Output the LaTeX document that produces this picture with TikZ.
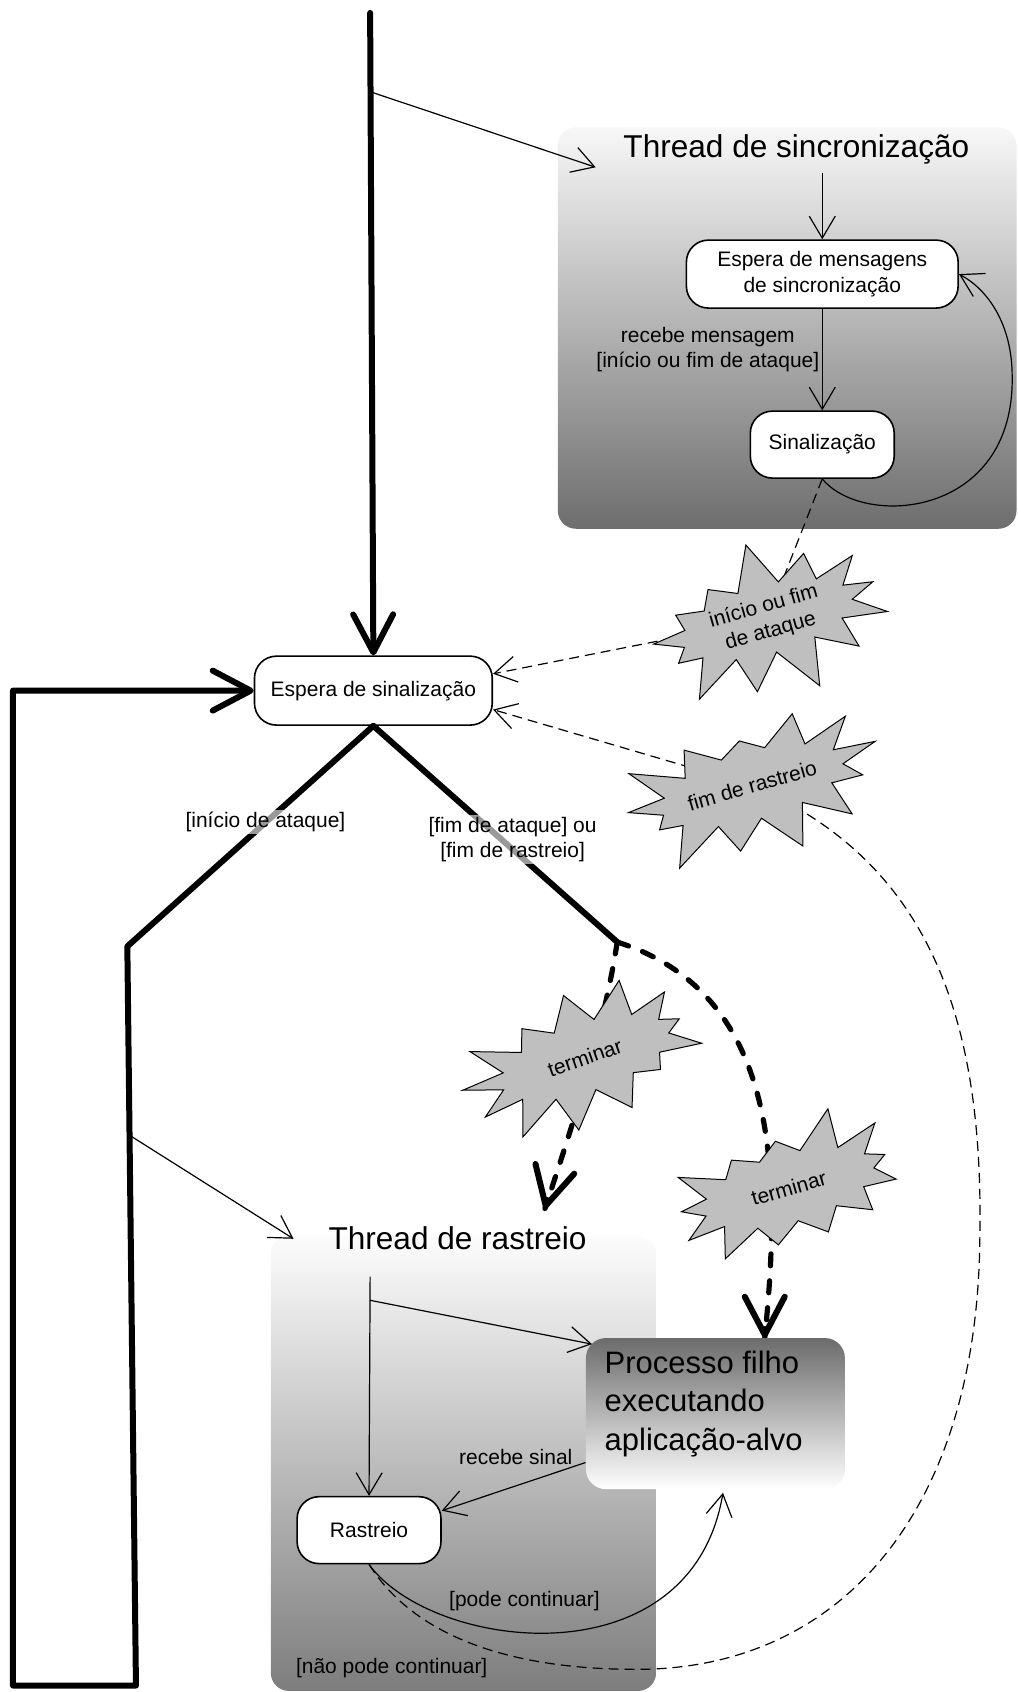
\documentclass[tikz,border=0pt]{standalone}
\usepackage{fontspec}
\setmainfont{Liberation Sans}
\usetikzlibrary{arrows.meta,shapes.symbols,calc}
\pgfdeclarelayer{back}
\pgfdeclarelayer{mid}
\pgfsetlayers{back,mid,main}

\begin{document}
\begin{tikzpicture}[x=0.54pt,y=-0.54pt,
  small/.style={font=\fontsize{10.5}{12.8}\selectfont},
  lbl/.style={small, inner sep=1pt, align=center},
  onthick/.style={lbl, fill=white, fill opacity=0.6, text opacity=1},
  statebox/.style={draw, line width=0.8pt, fill=white, rounded corners=11pt,
    small, align=center, inner sep=0pt},
  titletext/.style={font=\fontsize{15.8}{19}\selectfont, inner sep=0pt},
  thinarrow/.style={line width=0.6pt, -{Straight Barb[length=11pt,width=13pt]}},
  thickline/.style={line width=3pt, line cap=round, line join=round},
  thickarrow/.style={thickline, -{Straight Barb[length=19pt,width=20pt,round]}},
  thickdash/.style={line width=2.6pt, line cap=round, dash pattern=on 6pt off 7.5pt},
  thindash/.style={line width=0.6pt, dash pattern=on 5pt off 3pt},
  burst/.style={shape=starburst, starburst points=13, starburst point height=24pt,
    draw, line width=0.5pt, fill=black!25, minimum width=136pt, minimum height=82pt,
    rotate=16, small, align=center, inner sep=0pt},
]
\useasboundingbox (0,0) rectangle (943,1568);

% thread containers
\begin{pgfonlayer}{back}
  \shade[rounded corners=9pt, top color=black!3, bottom color=black!57]
    (517,118) rectangle (942,490);
  \shade[rounded corners=9pt, top color=black!1, bottom color=black!51]
    (251,1145) rectangle (608,1567);
\end{pgfonlayer}

% states and titles
\node[titletext] (synctitle) at (738,138) {Thread de sincronização};
\node[statebox, minimum width=136pt, minimum height=34pt] (emsg) at (762,254)
  {Espera de mensagens\\de sincronização};
\node[statebox, minimum width=72pt, minimum height=33.5pt] (sinal) at (762,412) {Sinalização};
\node[statebox, minimum width=119pt, minimum height=34.5pt] (esin) at (346,640) {Espera de sinalização};
\node[titletext] (rasttitle) at (424,1147) {Thread de rastreio};
\node[statebox, minimum width=72pt, minimum height=33.5pt] (rast) at (342,1418) {Rastreio};
\node[rounded corners=10pt, top color=black!58, bottom color=white,
  minimum width=129.6pt, minimum height=75.6pt, inner sep=0pt] (proc) at (663,1310) {};
\node[anchor=west, align=left, font=\fontsize{15.5}{19.4}\selectfont, inner sep=0pt]
  (proctext) at (560,1301) {Processo filho\\executando\\aplicação-alvo};

% signal bursts
\node[burst, random starburst=7] (star1) at (711,574) {início ou fim\\de ataque};
\node[burst, random starburst=23] (star2) at (697,728) {fim de rastreio};
\node[burst, random starburst=41, rotate=3] (term1) at (542,980) {terminar};
\node[burst, random starburst=59] (term2) at (731,1101) {terminar};

% junction points
\coordinate (top) at (343,12);
\coordinate (j1) at (343,85);
\coordinate (syncin) at (552,155);
\coordinate (synctop) at (762,160);
\coordinate (fork) at (572,873);
\coordinate (lb) at (118,877);
\coordinate (lbb) at (126,1562);
\coordinate (llb) at (12,1562);
\coordinate (llt) at (12,640);
\coordinate (j2) at (120,1052);
\coordinate (rastin) at (272,1148);
\coordinate (rasttop) at (343,1183);
\coordinate (j3) at (343,1205);
\coordinate (tip1) at (505,1120);

% connectors that pass behind the bursts
\begin{pgfonlayer}{mid}
  \draw[thindash] (sinal.south) -- (star1.center);
  \draw[thindash, -{Straight Barb[length=11pt,width=13pt]}] (star1.center) -- (esin.8);
  \draw[thindash, -{Straight Barb[length=11pt,width=13pt]}] (star2.center) -- (esin.-9);
  \draw[thindash] (rast.south) .. controls (380,1510) and (460,1547) .. (590,1547)
    .. controls (780,1547) and (905,1400) .. (908,1150)
    .. controls (912,950) and (865,800) .. (star2.center);
  \draw[thickdash] (fork) .. controls (560,950) and (535,1030) .. (tip1);
  \draw[thickdash] (fork) .. controls (720,920) and (725,1080) .. (proc.57);
\end{pgfonlayer}
\draw[thickline, -{Straight Barb[length=19pt,width=20pt,round]}]
  ($(tip1)+(2,-8)$) -- (tip1);
\draw[thickline, -{Straight Barb[length=19pt,width=20pt,round]}]
  ($(proc.57)+(0,-8)$) -- (proc.57);

% main control flow
\draw[thickarrow] (top) -- (esin.north);
\draw[thinarrow] (j1) -- (syncin);
\draw[thickline] (esin.south) -- (fork);
\draw[thickarrow] (esin.south) -- (lb) -- (lbb) -- (llb) -- (llt) -- (esin.west);
\draw[thinarrow] (j2) -- (rastin);

\node[onthick] (lstart) at (246,762) {[início de ataque]};
\node[onthick] (lend) at (475,778) {[fim de ataque] ou\\{}[fim de rastreio]};

% synchronisation thread
\draw[thinarrow] (synctop) -- (emsg.north);
\draw[thinarrow] (emsg.south) -- (sinal.north);
\node[lbl] (lmsg) at (656,324) {recebe mensagem\\{}[início ou fim de ataque]};
\draw[thinarrow] (sinal.south) .. controls (800,490) and (940,480) .. (938,349)
  .. controls (938,300) and (915,268) .. (emsg.east);

% tracing thread
\draw[thinarrow] (rasttop) -- (rast.north);
\draw[thinarrow] (j3) -- ($(proc.north west)+(6,6)$);
\draw[thinarrow] ($(proc.south west)+(0,-25)$) -- (rast.15);
\node[lbl] (lsig) at (478,1350) {recebe sinal};
\draw[thinarrow] (rast.south) .. controls (400,1530) and (640,1560) .. ($(proc.south)+(7,3)$);
\node[lbl] (lpode) at (486,1484) {[pode continuar]};
\node[lbl] (lnao) at (363,1546) {[não pode continuar]};
\end{tikzpicture}
\end{document}
